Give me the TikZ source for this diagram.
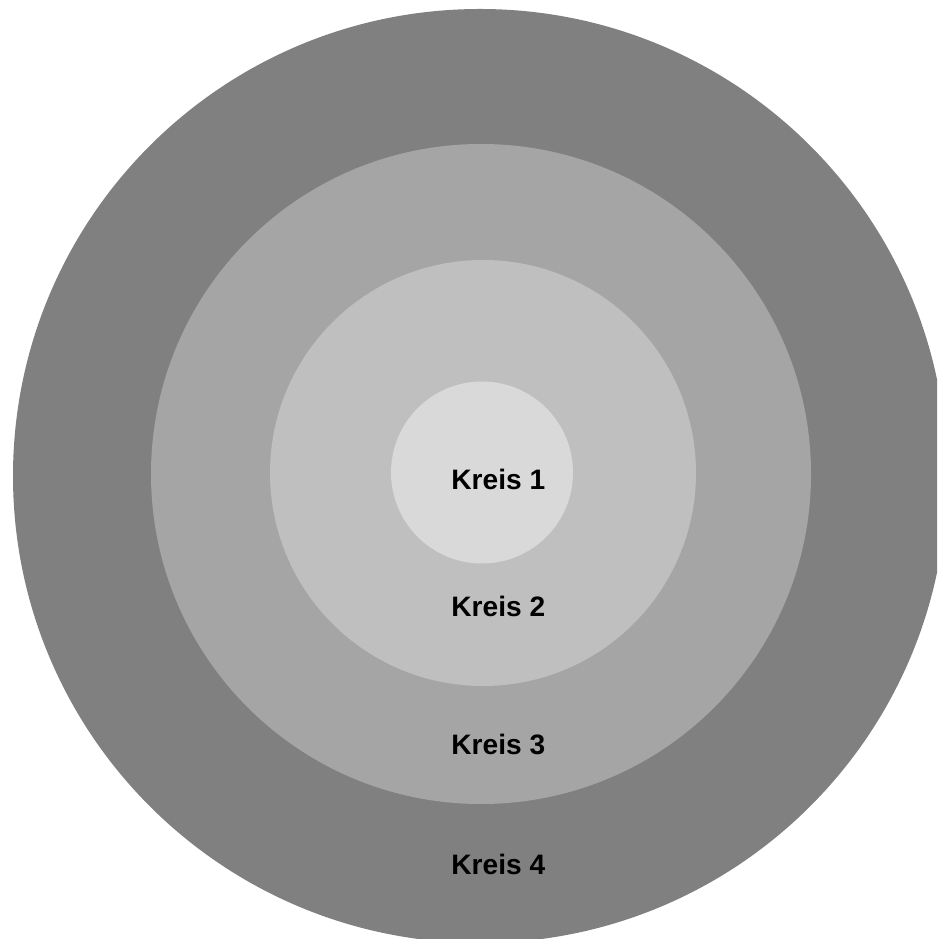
\documentclass[tikz,border=0pt]{standalone}
\usepackage{fontspec}
\setmainfont{Liberation Sans}
\usepackage{xcolor}
\definecolor{ringA}{HTML}{808080}
\definecolor{ringB}{HTML}{A5A5A5}
\definecolor{ringC}{HTML}{BFBFBF}
\definecolor{ringD}{HTML}{D9D9D9}
\begin{document}
\begin{tikzpicture}[
  ring/.style={circle, draw=none, inner sep=0pt},
  label/.style={font=\bfseries\fontsize{8}{9.6}\selectfont, anchor=base west, inner sep=0pt}
]
\useasboundingbox (0,0) rectangle (9.37,-9.39);
\clip (0,0) rectangle (9.37,-9.39);

\node[ring, fill=ringA, minimum size=9.34cm] (K4) at (4.80,-4.76) {};
\node[ring, fill=ringB, minimum size=6.60cm] (K3) at (4.81,-4.74) {};
\node[ring, fill=ringC, minimum size=4.26cm] (K2) at (4.83,-4.73) {};
\node[ring, fill=ringD, minimum size=1.82cm] (K1) at (4.82,-4.725) {};

\node[label] (L1) at (4.507,-4.89) {Kreis 1};
\node[label] (L2) at (4.507,-6.16) {Kreis 2};
\node[label] (L3) at (4.507,-7.54) {Kreis 3};
\node[label] (L4) at (4.507,-8.74) {Kreis 4};

\end{tikzpicture}
\end{document}
